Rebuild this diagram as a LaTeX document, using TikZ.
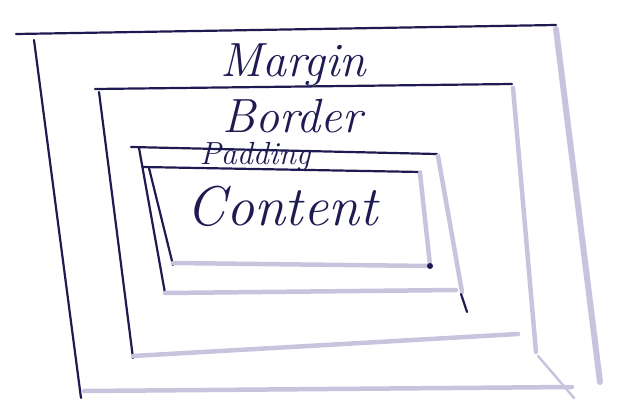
\documentclass[tikz,border=0pt]{standalone}
\usepackage{fontspec}
\usepackage{xcolor}
\definecolor{inkblue}{HTML}{1E1A52}
\definecolor{paleink}{HTML}{C9C3DD}
\tikzset{
  ink/.style={draw=inkblue, line width=2.2pt, line cap=round},
  pale/.style={draw=paleink, line width=4.5pt, line cap=round},
  hand/.style={text=inkblue, font=\itshape, inner sep=0pt}
}

\begin{document}
\begin{tikzpicture}[x=1pt, y=-1pt]
  \useasboundingbox (0,0) rectangle (620,406);

  % Margin box
  \draw[ink] (16,34) -- (556,25);
  \draw[ink] (34,40) -- (81,398);
  \draw[pale, line width=6pt] (556,29) -- (600,382);
  \draw[pale] (84,391) -- (572,387);
  \draw[pale, line width=2.5pt] (538,356) -- (574,398);

  % Border box
  \draw[ink] (95,89) -- (512,84);
  \draw[ink] (99,92) -- (133,358);
  \draw[pale] (513,88) -- (536,352);
  \draw[pale] (133,356) -- (518,334);

  % Padding box
  \draw[ink] (131,147) -- (437,154);
  \draw[ink] (139,148) -- (165,293);
  \draw[pale] (438,156) -- (462,292);
  \draw[pale] (165,293) -- (456,290);
  \draw[ink] (461,294) -- (467,312);

  % Content box
  \draw[ink] (143,167) -- (421,172);
  \draw[ink] (149,168) -- (173,265);
  \draw[pale] (420,173) -- (430,265);
  \draw[pale] (173,263) -- (430,266);
  \fill[inkblue] (430,266) circle (3);

  % Labels
  \node[hand, font=\itshape\fontsize{48}{48}\selectfont] (margin) at (293,65) {Margin};
  \node[hand, font=\itshape\fontsize{48}{48}\selectfont] (border) at (292,116) {Border};
  \node[hand, font=\itshape\fontsize{32}{32}\selectfont] (padding) at (255,157) {Padding};
  \node[hand, font=\itshape\fontsize{56}{56}\selectfont] (content) at (282,206) {Content};

\end{tikzpicture}
\end{document}
